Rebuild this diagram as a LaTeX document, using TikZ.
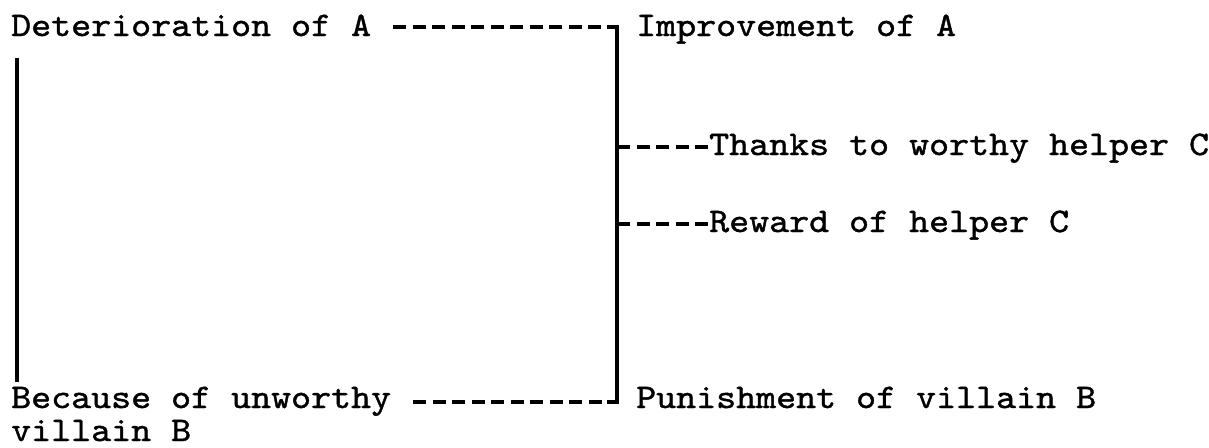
\documentclass[tikz,border=0pt]{standalone}
\usepackage{fontspec}
\newfontfamily\tw{lmmono10-regular.otf}[FakeStretch=1.104,FakeBold=1.2]
\begin{document}
\begin{tikzpicture}[x=1pt,y=-1pt,
  lbl/.style={anchor=base west, inner sep=0pt,
    font=\tw\fontsize{34.5}{34}\selectfont},
  link/.style={line width=3.2pt, dash pattern=on 13pt off 6.5pt},
  bar/.style={line width=3.2pt}]
\useasboundingbox (0,0) rectangle (1209,447);
\node[lbl] (det) at (11,36) {Deterioration of A};
\node[lbl] (imp) at (636,36) {Improvement of A};
\node[lbl] (thx) at (709,155) {Thanks to worthy helper C};
\node[lbl] (rew) at (709,232) {Reward of helper C};
\node[lbl] (pun) at (636,408) {Punishment of villain B};
\node[lbl] (bec) at (11,408) {Because of unworthy};
\node[lbl] (vil) at (11,441) {villain B};
\coordinate (tr) at (617,27);
\coordinate (br) at (617,402);
\coordinate (lt) at (17,58);
\coordinate (lb) at (17,382);
% left bar
\draw[bar] (lt) -- (lb);
% right bracket
\draw[bar] ([xshift=-10pt]tr) -- (tr) -- (br) -- ([xshift=-10pt]br);
% top and bottom links
\draw[link] ([xshift=22pt]det.base east |- tr) -- ([xshift=-10pt]tr);
\draw[link] ([xshift=22pt]bec.base east |- br) -- ([xshift=-10pt]br);
% branches
\coordinate (t1) at (tr |- 0,147);
\coordinate (r1) at (tr |- 0,224);
\draw[link] (t1) -- (thx.base west |- t1);
\draw[link] (r1) -- (rew.base west |- r1);
\end{tikzpicture}
\end{document}
